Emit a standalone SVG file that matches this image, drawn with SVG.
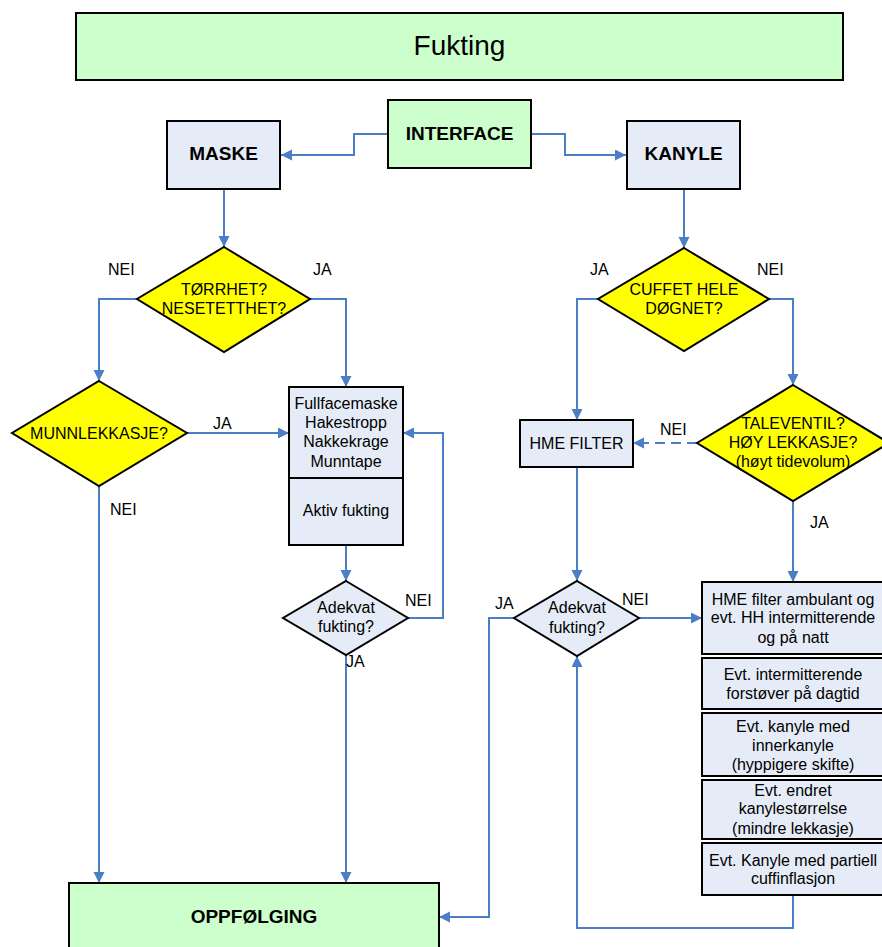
<svg xmlns="http://www.w3.org/2000/svg" width="882" height="947" viewBox="0 0 882 947">
  <style>
    .box { stroke: #000; stroke-width: 2; }
    .green { fill: #CCFFCC; }
    .blue { fill: #E6ECF7; }
    .yellow { fill: #FFFF00; }
    .conn { fill: none; stroke: #4A7EC6; stroke-width: 2; }
    .dash { stroke-dasharray: 10 6; }
    text { font-family: "Liberation Sans", Arial, sans-serif; fill: #000; }
    .t { font-size: 16px; text-anchor: middle; }
    .b { font-size: 19px; font-weight: bold; text-anchor: middle; }
    .lbl { font-size: 16px; }
    .title { font-size: 28px; text-anchor: middle; }
  </style>
  <defs>
    <marker id="arrow" markerUnits="userSpaceOnUse" markerWidth="12" markerHeight="12" refX="11" refY="5.5" orient="auto">
      <path d="M0,0 L11,5.5 L0,11 z" fill="#4A7EC6"/>
    </marker>
  </defs>

  <!-- Title -->
  <g id="title">
    <rect class="box green" x="76" y="13" width="767" height="67"/>
    <text class="title" x="459.5" y="55">Fukting</text>
  </g>

  <!-- Connectors -->
  <g id="connectors">
    <!-- interface to maske / kanyle -->
    <path class="conn" d="M388,134 H354 V155 H281" marker-end="url(#arrow)"/>
    <path class="conn" d="M531,134 H565 V155 H626" marker-end="url(#arrow)"/>
    <!-- maske branch -->
    <path class="conn" d="M224,189 V247" marker-end="url(#arrow)"/>
    <path class="conn" d="M137,299 H99 V381" marker-end="url(#arrow)"/>
    <path class="conn" d="M310,299 H346 V387" marker-end="url(#arrow)"/>
    <path class="conn" d="M187,433 H289" marker-end="url(#arrow)"/>
    <path class="conn" d="M346,545 V581" marker-end="url(#arrow)"/>
    <path class="conn" d="M408,618 H443 V433 H403" marker-end="url(#arrow)"/>
    <path class="conn" d="M346,655 V883" marker-end="url(#arrow)"/>
    <path class="conn" d="M99,486 V883" marker-end="url(#arrow)"/>
    <!-- kanyle branch -->
    <path class="conn" d="M684,189 V248" marker-end="url(#arrow)"/>
    <path class="conn" d="M598,299 H577 V420" marker-end="url(#arrow)"/>
    <path class="conn" d="M769,299 H793 V385" marker-end="url(#arrow)"/>
    <path class="conn dash" d="M697,443 H633" marker-end="url(#arrow)"/>
    <path class="conn" d="M577,467 V581" marker-end="url(#arrow)"/>
    <path class="conn" d="M793,501 V582" marker-end="url(#arrow)"/>
    <path class="conn" d="M639,618 H702" marker-end="url(#arrow)"/>
    <path class="conn" d="M514,618 H489 V917 H439" marker-end="url(#arrow)"/>
    <path class="conn" d="M793,895 V928 H577 V656" marker-end="url(#arrow)"/>
  </g>

  <!-- Connector labels -->
  <g id="labels">
    <text class="lbl" x="108" y="275">NEI</text>
    <text class="lbl" x="313" y="275">JA</text>
    <text class="lbl" x="590" y="275">JA</text>
    <text class="lbl" x="757" y="275">NEI</text>
    <text class="lbl" x="213" y="429">JA</text>
    <text class="lbl" x="110" y="515">NEI</text>
    <text class="lbl" x="405" y="606">NEI</text>
    <text class="lbl" x="346" y="667">JA</text>
    <text class="lbl" x="660" y="435">NEI</text>
    <text class="lbl" x="810" y="528">JA</text>
    <text class="lbl" x="495" y="609">JA</text>
    <text class="lbl" x="622" y="605">NEI</text>
  </g>

  <g id="interface">
    <rect class="box green" x="388" y="100" width="143" height="68"/>
    <text class="b" x="459.5" y="140">INTERFACE</text>
  </g>

  <g id="maske">
    <rect class="box blue" x="167" y="121" width="113" height="68"/>
    <text class="b" x="223.5" y="160">MASKE</text>
  </g>

  <g id="kanyle">
    <rect class="box blue" x="627" y="121" width="113" height="68"/>
    <text class="b" x="683.5" y="160">KANYLE</text>
  </g>

  <g id="torrhet">
    <polygon class="box yellow" points="224,247 310,299 224,352 137,299" stroke-width="1.5"/>
    <text class="t" x="224" y="295">TØRRHET?</text>
    <text class="t" x="224" y="314">NESETETTHET?</text>
  </g>

  <g id="munnlekkasje">
    <polygon class="box yellow" points="99,381 187,433 99,486 12,433" stroke-width="1.5"/>
    <text class="t" x="99" y="439">MUNNLEKKASJE?</text>
  </g>

  <g id="tiltak-maske">
    <rect class="box blue" x="289" y="387" width="114" height="158"/>
    <line class="box" x1="289" y1="478" x2="403" y2="478"/>
    <text class="t" x="346" y="409">Fullfacemaske</text>
    <text class="t" x="346" y="428">Hakestropp</text>
    <text class="t" x="346" y="447">Nakkekrage</text>
    <text class="t" x="346" y="467">Munntape</text>
    <text class="t" x="346" y="516">Aktiv fukting</text>
  </g>

  <g id="adekvat-maske">
    <polygon class="box blue" points="346,581 408,618 346,655 283,618" stroke-width="1.5"/>
    <text class="t" x="346" y="613">Adekvat</text>
    <text class="t" x="346" y="632">fukting?</text>
  </g>

  <g id="oppfolging">
    <rect class="box green" x="69" y="883" width="370" height="80"/>
    <text class="b" x="254" y="923">OPPFØLGING</text>
  </g>

  <g id="cuffet">
    <polygon class="box yellow" points="684,248 769,299 684,351 598,299" stroke-width="1.5"/>
    <text class="t" x="684" y="295">CUFFET HELE</text>
    <text class="t" x="684" y="314">DØGNET?</text>
  </g>

  <g id="hme-filter">
    <rect class="box blue" x="520" y="420" width="113" height="47"/>
    <text class="t" x="576.5" y="449">HME FILTER</text>
  </g>

  <g id="taleventil">
    <polygon class="box yellow" points="793,385 889,443 793,501 697,443" stroke-width="1.5"/>
    <text class="t" x="793" y="429">TALEVENTIL?</text>
    <text class="t" x="793" y="448">HØY LEKKASJE?</text>
    <text class="t" x="793" y="467">(høyt tidevolum)</text>
  </g>

  <g id="adekvat-kanyle">
    <polygon class="box blue" points="577,581 639,618 577,656 514,618" stroke-width="1.5"/>
    <text class="t" x="577" y="613">Adekvat</text>
    <text class="t" x="577" y="633">fukting?</text>
  </g>

  <g id="tiltak-kanyle">
    <rect class="box blue" x="702" y="582" width="182" height="72"/>
    <text class="t" x="793" y="605">HME filter ambulant og</text>
    <text class="t" x="793" y="623">evt. HH intermitterende</text>
    <text class="t" x="793" y="643">og på natt</text>
  </g>

  <g id="forstover">
    <rect class="box blue" x="702" y="658" width="182" height="51"/>
    <text class="t" x="793" y="680">Evt. intermitterende</text>
    <text class="t" x="793" y="699">forstøver på dagtid</text>
  </g>

  <g id="innerkanyle">
    <rect class="box blue" x="702" y="713" width="182" height="63"/>
    <text class="t" x="793" y="732">Evt. kanyle med</text>
    <text class="t" x="793" y="751">innerkanyle</text>
    <text class="t" x="793" y="770">(hyppigere skifte)</text>
  </g>

  <g id="kanylestorrelse">
    <rect class="box blue" x="702" y="780" width="182" height="59"/>
    <text class="t" x="793" y="796">Evt. endret</text>
    <text class="t" x="793" y="814">kanylestørrelse</text>
    <text class="t" x="793" y="834">(mindre lekkasje)</text>
  </g>

  <g id="partiell-cuff">
    <rect class="box blue" x="702" y="843" width="182" height="52"/>
    <text class="t" x="793" y="866">Evt. Kanyle med partiell</text>
    <text class="t" x="793" y="884">cuffinflasjon</text>
  </g>
</svg>
